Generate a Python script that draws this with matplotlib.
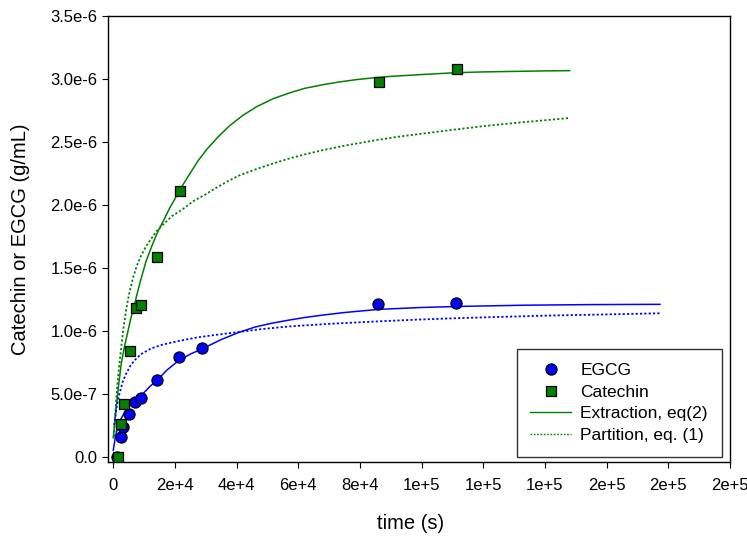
import numpy as np
import matplotlib
matplotlib.use("Agg")
import matplotlib.pyplot as plt
from matplotlib.ticker import FuncFormatter, FixedLocator

plt.rcParams['font.family'] = ['Liberation Sans', 'DejaVu Sans']

# measured concentrations (g/mL) vs time (s)
egcg_t = [1200, 2400, 3150, 5100, 7150, 8900, 14300, 21300, 28700, 86000, 111200]
egcg_c = [0.0, 0.155e-6, 0.235e-6, 0.337e-6, 0.437e-6, 0.464e-6, 0.609e-6, 0.794e-6, 0.861e-6, 1.215e-6, 1.218e-6]

cat_t = [1600, 2600, 3450, 5300, 7250, 8900, 14300, 21500, 86200, 111400]
cat_c = [0.0, 0.26e-6, 0.42e-6, 0.84e-6, 1.18e-6, 1.205e-6, 1.589e-6, 2.11e-6, 2.975e-6, 3.077e-6]

# model curves, catechin (concentrations in 1e-6 g/mL)
cat_ext_t = [0, 1000, 1800, 2600, 3600, 4800, 5800, 6900, 8000, 9100, 10600, 12300, 14300,
             16400, 18400, 20500, 22600, 24900, 27500, 30300, 34000, 37800, 42000, 46500,
             52000, 57300, 62000, 68100, 73000, 78900, 84000, 89700, 100000, 111400,
             120000, 130000, 140000, 148000]
cat_ext_c = [0.15, 0.40, 0.58, 0.74, 0.87, 1.00, 1.11, 1.21, 1.32, 1.42, 1.55, 1.66, 1.78,
             1.88, 1.98, 2.07, 2.16, 2.25, 2.35, 2.44, 2.54, 2.63, 2.71, 2.78,
             2.845, 2.89, 2.925, 2.955, 2.975, 2.995, 3.008, 3.02, 3.035, 3.05,
             3.056, 3.06, 3.064, 3.066]

cat_par_t = [300, 700, 1300, 1900, 2600, 3300, 4200, 5200, 6400, 7700, 9100, 10600, 12300,
             14000, 16000, 19000, 22200, 26000, 29700, 33000, 37300, 41000, 46500, 52000,
             57300, 62000, 68000, 75000, 84300, 92000, 100000, 111400, 120000, 130000, 148000]
cat_par_c = [0.16, 0.36, 0.56, 0.72, 0.87, 1.02, 1.17, 1.30, 1.42, 1.52, 1.60, 1.67, 1.73,
             1.79, 1.84, 1.91, 1.96, 2.03, 2.08, 2.13, 2.19, 2.235, 2.285, 2.33,
             2.37, 2.40, 2.435, 2.47, 2.51, 2.54, 2.565, 2.60, 2.625, 2.65, 2.69]

# model curves, EGCG
egcg_ext_t = [0, 700, 1500, 2500, 3700, 5200, 6900, 8500, 10000, 12000, 14300, 17500, 21300,
              25000, 28700, 35000, 40500, 46000, 51400, 57000, 62000, 68000, 75000, 86000,
              100000, 111000, 133000, 155000, 177300]
egcg_ext_c = [0.05, 0.16, 0.24, 0.30, 0.355, 0.40, 0.44, 0.475, 0.51, 0.56, 0.61, 0.69, 0.765,
              0.815, 0.855, 0.93, 0.985, 1.03, 1.06, 1.085, 1.105, 1.125, 1.145, 1.17,
              1.185, 1.193, 1.203, 1.208, 1.21]

egcg_par_t = [300, 1000, 2000, 3000, 4200, 5500, 6900, 9000, 12300, 16000, 19500, 23500, 27500,
              34000, 40500, 48000, 57300, 70000, 86000, 100000, 111400, 125000, 140000, 160000, 177300]
egcg_par_c = [0.25, 0.38, 0.50, 0.59, 0.66, 0.72, 0.765, 0.815, 0.86, 0.89, 0.91, 0.93, 0.948,
              0.97, 0.99, 1.013, 1.035, 1.055, 1.075, 1.09, 1.10, 1.11, 1.12, 1.13, 1.139]

x_ticks = np.arange(0, 200001, 20000)
y_ticks = np.arange(0, 8) * 5e-7

blue = '#0000ff'
green = '#008000'
dots = (0, (1.2, 1.2))


def fmt_x(v, pos):
    if abs(v) < 1e-9:
        return "0"
    m, e = f"{v:.0e}".split('e')
    return f"{m}e{int(e):+d}"


def fmt_y(v, pos):
    if abs(v) < 1e-12:
        return "0.0"
    m, e = f"{v:.1e}".split('e')
    return f"{m}e{int(e):+d}"


def micro(vals):
    return np.array(vals) * 1e-6


fig = plt.figure(figsize=(7.47, 5.37), dpi=100)
ax = fig.add_axes([0.1446, 0.1397, 0.8326, 0.8305])

ax.plot(cat_ext_t, micro(cat_ext_c), color=green, lw=1.1, zorder=2)
ax.plot(cat_par_t, micro(cat_par_c), color=green, lw=1.3, ls=dots, zorder=2)
ax.plot(egcg_ext_t, micro(egcg_ext_c), color=blue, lw=1.1, zorder=2)
ax.plot(egcg_par_t, micro(egcg_par_c), color=blue, lw=1.3, ls=dots, zorder=2)

ax.plot(egcg_t, egcg_c, 'o', ms=8, mfc=blue, mec='black', mew=0.9, zorder=3)
ax.plot(cat_t, cat_c, 's', ms=7.3, mfc=green, mec='black', mew=0.9, zorder=3)

ax.set_xlim(-1700, 200000)
ax.set_ylim(-4.2e-8, 3.5e-6)
ax.xaxis.set_major_locator(FixedLocator(x_ticks))
ax.yaxis.set_major_locator(FixedLocator(y_ticks))
ax.xaxis.set_major_formatter(FuncFormatter(fmt_x))
ax.yaxis.set_major_formatter(FuncFormatter(fmt_y))
ax.tick_params(direction='out', length=4.5, width=0.8, labelsize=12, color='black')
ax.tick_params(axis='x', pad=7)
ax.tick_params(axis='y', pad=3)
for s in ax.spines.values():
    s.set_linewidth(1.0)

ax.set_xlabel('time (s)', fontsize=14.5)
ax.set_ylabel('Catechin or EGCG (g/mL)', fontsize=14.5)
ax.xaxis.set_label_coords(0.486, -0.117)
ax.yaxis.set_label_coords(-0.125, 0.5)

# legend entries
h1, = ax.plot([], [], 'o', ms=8, mfc=blue, mec='black', mew=0.9)
h2, = ax.plot([], [], 's', ms=7.3, mfc=green, mec='black', mew=0.9)
h3, = ax.plot([], [], color=green, lw=1.0)
h4, = ax.plot([], [], color=green, lw=1.0, ls=dots)
leg = ax.legend([h1, h2, h3, h4], ['EGCG', 'Catechin', 'Extraction, eq(2)', 'Partition, eq. (1)'],
                loc='lower right', bbox_to_anchor=(0.987, 0.011), borderaxespad=0,
                fontsize=12.5, fancybox=False, framealpha=1, edgecolor='#333333',
                handlelength=2.36, handletextpad=0.52, labelspacing=0.38, borderpad=0.8)
leg.get_frame().set_linewidth(1.0)

fig.savefig('out.png', dpi=100)
